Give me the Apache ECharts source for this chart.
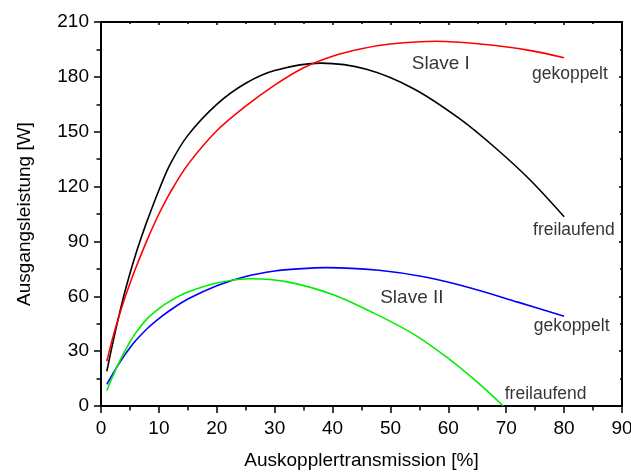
<!DOCTYPE html>
<html>
<head>
<meta charset="utf-8">
<script src="https://cdn.jsdelivr.net/npm/echarts@6/dist/echarts.min.js"></script>
<style>
  html, body { margin: 0; padding: 0; background: #fff; overflow: hidden; }
  #chart { width: 631px; height: 472px; }
</style>
</head>
<body>
<div id="chart"></div>
<script>
// Slave I, freilaufend: Auskopplertransmission [%] / Ausgangsleistung [W]
const slave1FreeX = [1, 2, 3, 4, 5, 6, 7, 8, 10, 12, 15, 20, 25, 30, 38, 46, 54, 62, 68, 74, 80];
const slave1FreeY = [19, 34, 48, 61, 72.5, 83, 92.5, 101.5, 118, 132.5, 148, 165, 176.5, 183.5, 187.5, 184, 173.5, 157, 141.5, 124, 103.5];

// Slave I, gekoppelt
const slave1CoupledX = [1, 2, 3, 4, 5, 6, 8, 10, 12, 15, 20, 25, 30, 35, 40, 45, 50, 58, 66, 74, 80];
const slave1CoupledY = [24.5, 37, 48, 58, 67, 75.5, 91, 105, 117, 132, 150.5, 164, 175.5, 185, 191.3, 195.4, 198, 199.5, 197.8, 194.5, 190.4];

// Slave II, gekoppelt
const slave2CoupledX = [1, 2, 3, 4, 5, 6, 8, 10, 12, 15, 20, 25, 30, 34, 39, 48, 56, 64, 72, 80];
const slave2CoupledY = [11.8, 17.3, 22.6, 27.4, 31.8, 35.8, 42.4, 47.8, 52.5, 58.5, 65.8, 70.8, 73.8, 75, 75.7, 74.2, 70.5, 64.4, 56.8, 49.1];

// Slave II, freilaufend (drops to zero just below 70 %)
const slave2FreeX = [1, 2, 3, 4, 5, 6, 8, 10, 12, 15, 20, 26, 32, 40, 47, 54, 60, 65, 69.5];
const slave2FreeY = [8.5, 16, 23, 29.3, 35, 40, 47.8, 53.3, 57.5, 62.3, 67.3, 69.6, 68, 61, 51, 39.3, 26, 13, 0];

// Curve annotations: [x, y, text, font size]
const annotations = [
  [58.7, 187, 'Slave I', 19],
  [81, 181.5, 'gekoppelt', 17.5],
  [81.7, 96.2, 'freilaufend', 17.5],
  [53.7, 59, 'Slave II', 19],
  [81.3, 43.5, 'gekoppelt', 17.5],
  [76.8, 6.6, 'freilaufend', 17.5]
];

const xTicks = { min: 0, max: 90, interval: 10 };
const yTicks = { min: 0, max: 210, interval: 30 };

const FONT = 'Liberation Sans, Arial, sans-serif';
const pairs = (xs, ys) => xs.map((x, i) => [x, ys[i]]);

const frameLine = { show: true, onZero: false, lineStyle: { color: '#000', width: 2 } };

function baseAxis(ticks, position, outer) {
  return {
    type: 'value',
    position: position,
    min: ticks.min,
    max: ticks.max,
    interval: ticks.interval,
    axisLine: frameLine,
    axisTick: { show: true, inside: !outer, length: outer ? 7 : 3, lineStyle: { color: '#000', width: 1.5 } },
    minorTick: { show: true, splitNumber: 2, length: outer ? 4.5 : 2, lineStyle: { color: '#000', width: 1.5 } },
    splitLine: { show: false },
    minorSplitLine: { show: false },
    axisLabel: { show: outer, color: '#000', fontSize: 19, fontFamily: FONT, margin: 12 }
  };
}

const xBottom = Object.assign(baseAxis(xTicks, 'bottom', true), {
  name: 'Auskopplertransmission [%]',
  nameLocation: 'middle',
  nameGap: 45,
  nameTextStyle: { color: '#000', fontSize: 19, fontFamily: FONT }
});
xBottom.axisLabel.margin = 13;
const xTop = baseAxis(xTicks, 'top', false);

const yLeft = Object.assign(baseAxis(yTicks, 'left', true), {
  name: 'Ausgangsleistung [W]',
  nameLocation: 'middle',
  nameGap: 67,
  nameTextStyle: { color: '#000', fontSize: 19, fontFamily: FONT }
});
const yRight = baseAxis(yTicks, 'right', false);

function curve(name, xs, ys, color) {
  return {
    name: name,
    type: 'line',
    xAxisIndex: 0,
    yAxisIndex: 0,
    data: pairs(xs, ys),
    smooth: 0.34,
    showSymbol: false,
    symbol: 'none',
    lineStyle: { color: color, width: 1.6 },
    z: 3,
    animation: false
  };
}

const chart = echarts.init(document.getElementById('chart'), null, { renderer: 'canvas' });
chart.setOption({
  backgroundColor: '#fff',
  animation: false,
  grid: { left: 101, right: 9, top: 22, bottom: 66, containLabel: false, outerBoundsMode: 'none' },
  xAxis: [xBottom, xTop],
  yAxis: [yLeft, yRight],
  series: [
    curve('Slave I freilaufend', slave1FreeX, slave1FreeY, '#000000'),
    curve('Slave I gekoppelt', slave1CoupledX, slave1CoupledY, '#ff0000'),
    curve('Slave II gekoppelt', slave2CoupledX, slave2CoupledY, '#0000ff'),
    curve('Slave II freilaufend', slave2FreeX, slave2FreeY, '#00ee00'),
    {
      name: 'Beschriftung',
      type: 'scatter',
      xAxisIndex: 0,
      yAxisIndex: 0,
      symbolSize: 0,
      silent: true,
      z: 5,
      data: annotations.map(a => ({
        value: [a[0], a[1]],
        label: {
          show: true,
          position: 'inside',
          formatter: a[2],
          color: '#000',
          fontSize: a[3],
          fontFamily: FONT
        }
      }))
    }
  ]
});
</script>
</body>
</html>
